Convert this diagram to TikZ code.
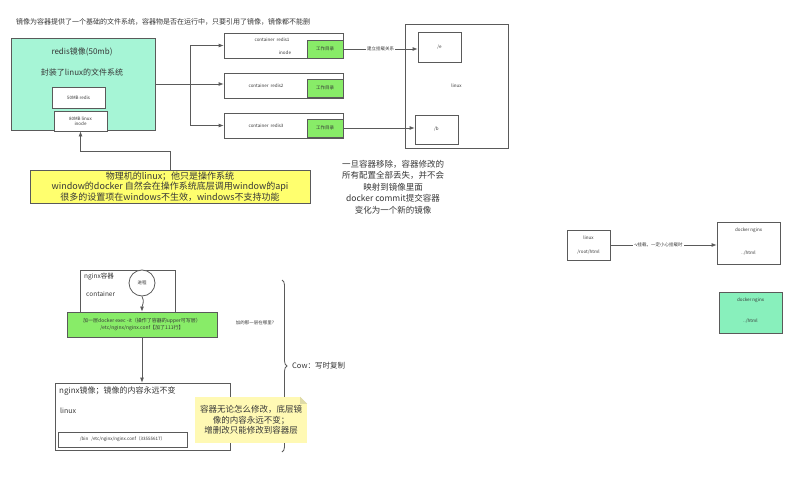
\documentclass[tikz,border=0pt]{standalone}
\usepackage{fontspec}
\setmainfont{Noto Sans CJK SC}
\usetikzlibrary{arrows.meta,calc,decorations.pathreplacing}
\definecolor{LineClr}{RGB}{90,90,90}
\definecolor{TextClr}{RGB}{55,55,55}
\definecolor{ImageClr}{RGB}{166,245,214}
\definecolor{MintClr}{RGB}{136,240,188}
\definecolor{WorkClr}{RGB}{136,236,104}
\definecolor{NoteClr}{RGB}{255,255,110}
\definecolor{TipClr}{RGB}{255,249,180}

\tikzset{
  box/.style={draw=LineClr,line width=0.8pt,inner sep=0pt},
  txt/.style={inner sep=0pt,text=TextClr},
  tiny/.style={txt,font=\fontsize{4.5}{5.5}\selectfont},
  con/.style={draw=LineClr,line width=0.8pt,-{Latex[length=5pt,width=4pt]}},
}

\begin{document}
\begin{tikzpicture}[x=1pt,y=-1pt]
\fill[white] (0,0) rectangle (797,484);
\useasboundingbox (0,0) rectangle (797,484);

\node[txt,anchor=west,font=\fontsize{7}{8}\selectfont] (title) at (16,22) {镜像为容器提供了一个基础的文件系统，容器物是否在运行中，只要引用了镜像，镜像都不能删};

\node[box,fill=ImageClr,minimum width=144,minimum height=92] (redis) at (83,84) {};
\node[txt,font=\fontsize{8}{9}\selectfont] (redisname) at (82,52) {redis镜像(50mb)};
\node[txt,font=\fontsize{8}{9}\selectfont] (redisfs) at (82,72) {封装了linux的文件系统};
\node[box,fill=white,minimum width=53,minimum height=21] (layer) at (78.5,97.5) {};
\node[tiny] (layertxt) at (layer) {50MB redis};
\node[box,fill=white,minimum width=53,minimum height=20] (inode) at (80.5,121) {};
\node[tiny,align=center] (inodetxt) at (inode) {80MB linux\\inode};

\node[box,fill=NoteClr,minimum width=280,minimum height=33] (phys) at (170,186.5) {};
\node[txt,align=center,font=\fontsize{9}{10.5}\selectfont] (physname) at (phys) {物理机的linux；他只是操作系统\\window的docker 自然会在操作系统底层调用window的api\\很多的设置项在windows不生效，windows不支持功能};
\draw[con] (phys.north) -- ++(0,-18) -| (inode.south);

\node[box,minimum width=119,minimum height=25] (c1) at (283.5,45.5) {};
\node[box,minimum width=119,minimum height=25] (c2) at (283.5,85.5) {};
\node[box,minimum width=119,minimum height=25] (c3) at (283.5,125.5) {};
\node[box,fill=WorkClr,minimum width=36,minimum height=18] (w1) at (325,49) {};
\node[box,fill=WorkClr,minimum width=36,minimum height=18] (w2) at (325,88) {};
\node[box,fill=WorkClr,minimum width=36,minimum height=18] (w3) at (325,128) {};
\node[tiny] (w1txt) at (w1) {工作目录};
\node[tiny] (w2txt) at (w2) {工作目录};
\node[tiny] (w3txt) at (w3) {工作目录};
\node[tiny] (c1name) at (272,40) {container\ \ redis1};
\node[tiny] (c1inode) at (285,53) {inode};
\node[tiny] (c2name) at (266,86) {container\ \ redis2};
\node[tiny] (c3name) at (266,126) {container\ \ redis3};

\coordinate (fork) at (190,84);
\draw[draw=LineClr,line width=0.8pt] (redis.east) -- (fork);
\draw[con] (fork) |- (c1.west);
\draw[con] (fork) -- (c2.west |- fork);
\draw[con] (fork) |- (c3.west);

\node[box,minimum width=103,minimum height=124] (host) at (456.5,86) {};
\node[tiny] (hosttxt) at (host) {linux};
\node[box,minimum width=43,minimum height=30] (edir) at (439.5,47) {};
\node[tiny] (edirtxt) at (edir) {/e};
\node[box,minimum width=43,minimum height=29] (bdir) at (436.5,129.5) {};
\node[tiny] (bdirtxt) at (bdir) {/b};
\draw[con] (w1.east) -- (w1.east -| edir.west) node[pos=0.5,tiny,fill=white,inner xsep=1pt] (mount) {建立挂载关系};
\draw[con] (w3.east) -- (w3.east -| bdir.west);

\node[txt,align=center,font=\fontsize{8.5}{11.5}\selectfont] (commit) at (393,187) {一旦容器移除，容器修改的\\所有配置全部丢失，并不会\\映射到镜像里面\\docker commit提交容器\\变化为一个新的镜像};

\node[box,minimum width=43,minimum height=30] (hostdir) at (588.5,245) {};
\node[tiny] (hostdirname) at (588.5,238) {linux};
\node[tiny] (hostdirpath) at (588.5,252) {/root/html};
\node[box,minimum width=63,minimum height=42] (nginx) at (748.5,243) {};
\node[tiny] (nginxname) at (748.5,230) {docker nginx};
\node[tiny] (nginxpath) at (748.5,253) {../html};
\draw[con] (hostdir.east) -- (hostdir.east -| nginx.west) node[pos=0.45,tiny,fill=white,inner xsep=1pt] (vmount) {-v挂载，一定小心挂载时};
\node[box,fill=MintClr,minimum width=63,minimum height=41] (nginxb) at (750.5,312.5) {};
\node[tiny] (nginxbname) at (750.5,300) {docker nginx};
\node[tiny] (nginxbpath) at (750.5,321) {../html};

\node[box,minimum width=95,minimum height=45] (ctr) at (127.5,292.5) {};
\node[txt,anchor=west,font=\fontsize{6.5}{7.5}\selectfont] (ctrname) at (84,277) {nginx容器};
\node[txt,anchor=west,font=\fontsize{6.5}{7.5}\selectfont] (ctrtype) at (86,294) {container};
\node[box,circle,fill=white,minimum size=26] (proc) at (142,283) {};
\node[tiny] (proctxt) at (proc) {进程};
\node[box,fill=WorkClr,minimum width=150,minimum height=25] (exec) at (142,324.5) {};
\node[txt,align=center,font=\fontsize{5}{6.5}\selectfont] (exectxt) at (exec) {加一层docker exec -it（操作了容器的upper可写层）\\/etc/nginx/nginx.conf【加了111行】};
\draw[con] (proc.south) to[out=-60,in=90] (exec.north);
\node[tiny] (where) at (255,323) {加的那一层在哪里?};

\node[box,minimum width=175,minimum height=67] (img) at (142.5,416.5) {};
\node[txt,anchor=west,font=\fontsize{8}{9}\selectfont] (imgname) at (59,391) {nginx镜像；镜像的内容永远不变};
\node[txt,anchor=west,font=\fontsize{7}{8}\selectfont] (imglinux) at (60,411) {linux};
\node[box,minimum width=129,minimum height=15] (imgfs) at (122.5,439.5) {};
\node[tiny] (imgfstxt) at (imgfs) {/bin\ \ \ /etc/nginx/nginx.conf（33555617）};
\draw[con] (exec.south) -- (img.north -| exec.south);

\coordinate (bracetop) at (282,280);
\coordinate (bracebot) at (282,452);
\draw[draw=LineClr,line width=0.8pt,decorate,decoration={brace,amplitude=5pt}] (bracetop) -- (bracebot);
\node[txt,anchor=west,font=\fontsize{7.5}{8.5}\selectfont] (cow) at (292,366) {Cow：写时复制};

\node[fill=TipClr,minimum width=112,minimum height=46,inner sep=0pt] (note) at (251,420) {};
\fill[white] (note.north east) -- ++(-7,0) -- ++(7,7) -- cycle;
\fill[TipClr!75!gray] (note.north east) ++(-7,0) -- ++(7,7) -- ++(-7,0) -- cycle;
\node[txt,align=center,font=\fontsize{8.5}{10.5}\selectfont] (notetxt) at (note) {容器无论怎么修改，底层镜\\像的内容永远不变；\\增删改只能修改到容器层};

\end{tikzpicture}
\end{document}
